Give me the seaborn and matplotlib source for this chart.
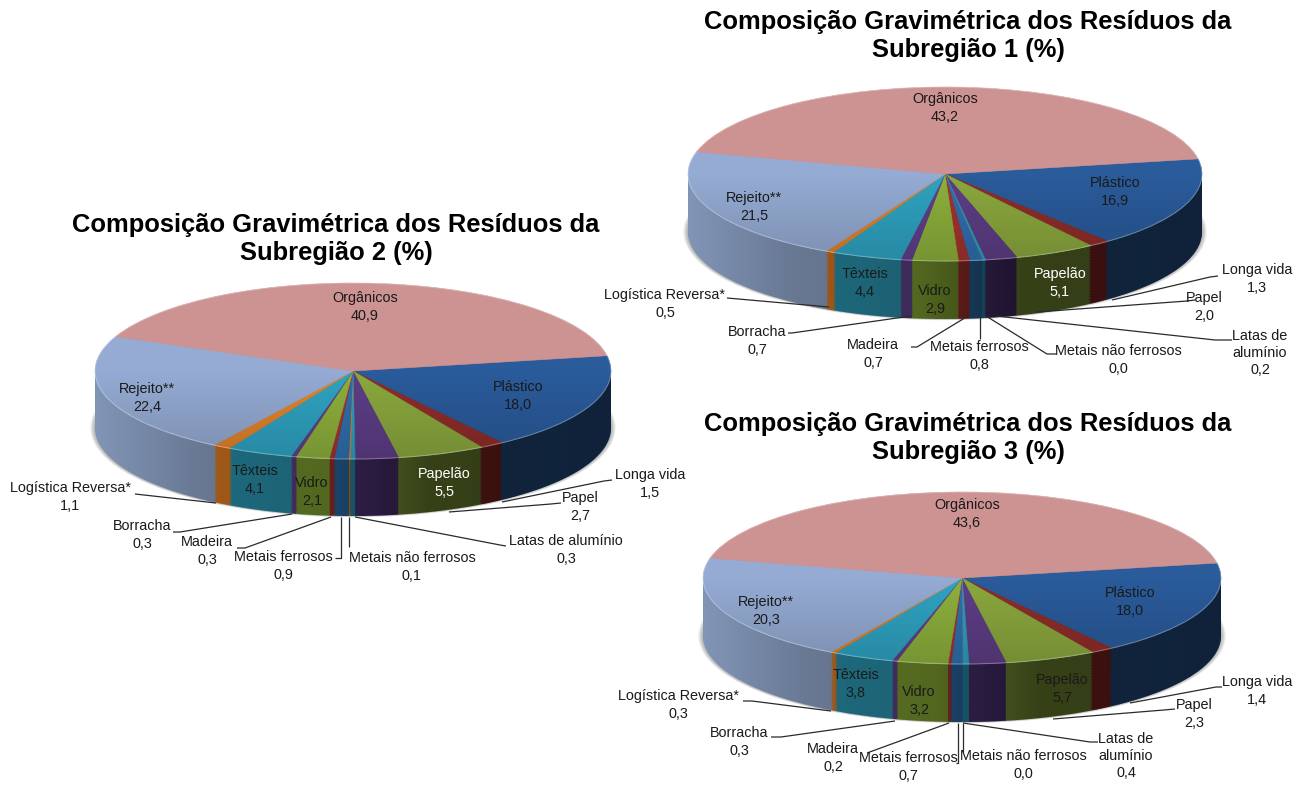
import numpy as np
import seaborn as sns
import matplotlib
matplotlib.use("Agg")
import matplotlib.pyplot as plt
from matplotlib.patches import Ellipse, Polygon

sns.set_theme(style="white")
plt.rcParams["font.family"] = ["Liberation Sans", "DejaVu Sans"]

# Dados

categorias = ["Plástico", "Longa vida", "Papelão", "Papel", "Latas de alumínio", "Metais não ferrosos",
              "Metais ferrosos", "Madeira", "Vidro", "Borracha", "Têxteis", "Logística Reversa*",
              "Rejeito**", "Orgânicos"]
sub1 = [16.9, 1.3, 5.1, 2.0, 0.2, 0.0, 0.8, 0.7, 2.9, 0.7, 4.4, 0.5, 21.5, 43.2]
sub2 = [18.0, 1.5, 5.5, 2.7, 0.3, 0.1, 0.9, 0.3, 2.1, 0.3, 4.1, 1.1, 22.4, 40.9]
sub3 = [18.0, 1.4, 5.7, 2.3, 0.4, 0.0, 0.7, 0.2, 3.2, 0.3, 3.8, 0.3, 20.3, 43.6]
titulos = ["Composição Gravimétrica dos Resíduos da\nSubregião 1 (%)",
           "Composição Gravimétrica dos Resíduos da\nSubregião 2 (%)",
           "Composição Gravimétrica dos Resíduos da\nSubregião 3 (%)"]

# Cores

cores_topo = sns.color_palette(["#2A5B9B", "#8F2D2A", "#8BA83E", "#5E3E86", "#2FA0BE", "#E3832A", "#2F70AE",
                                "#A33330", "#8DB03C", "#603F8B", "#2FA3C2", "#E3832A", "#95ABD3", "#CC9392"])
cores_lado = sns.color_palette(["#2B5F9E", "#9A2D2A", "#8BA83E", "#4F3378", "#2590AC", "#E07B22", "#2A6AA6",
                                "#A5302C", "#7F9E30", "#5E4288", "#2A93AE", "#DC7A20", "#8FA5CA", "#B08080"])

W, H = 1303, 787

# Posicoes em pixels (layout, na ordem de categorias)

graficos = [
    dict(valores=sub1, titulo=titulos[0], titulo_xy=(968, 36), cx=945, cy=174, a=257, b=87, prof=58,
         textos=[(1115, 192), (1257, 279), (1060, 283), (1204, 307), (1260, 353), (1118, 360), (979, 356),
                 (873, 354), (935, 300), (757, 341), (865, 283), (665, 304), (754, 207), (945, 108)],
         linhas=[[(1218, 276), (1210, 277), (1112, 300)], [(1195, 300), (1187, 301), (1037, 312)],
                 [(1232, 340), (1215, 340), (996, 316)], [(1056, 354), (1047, 354), (986, 316)],
                 [(980, 339), (980, 316)], [(911, 347), (917, 347), (968, 316)],
                 [(788, 333), (792, 333), (911, 316)], [(727, 298), (829, 307)]],
         branco=True, rotulo_latas="Latas de\nalumínio"),
    dict(valores=sub2, titulo=titulos[1], titulo_xy=(336, 239), cx=353, cy=371, a=258, b=88, prof=57,
         textos=[(518, 396), (650, 484), (444, 483), (580, 507), (566, 550), (412, 567), (283, 566),
                 (207, 551), (312, 492), (142, 535), (255, 480), (70, 497), (147, 398), (365, 307)],
         linhas=[[(612, 480), (604, 481), (502, 502)], [(561, 503), (551, 504), (449, 512)],
                 [(506, 546), (500, 545), (355, 517)], [(349, 547), (349, 517)],
                 [(335, 558), (341, 558), (341, 517)], [(237, 548), (245, 548), (331, 517)],
                 [(173, 532), (180, 532), (292, 514)], [(135, 494), (216, 503)]],
         branco=True, rotulo_latas="Latas de alumínio"),
    dict(valores=sub3, titulo=titulos[2], titulo_xy=(968, 438), cx=962, cy=578, a=259, b=86, prof=58,
         textos=[(1130, 602), (1257, 691), (1062, 689), (1194, 714), (1126, 756), (1023, 765), (908, 767),
                 (833, 758), (919, 701), (739, 742), (856, 684), (678, 705), (766, 611), (967, 514)],
         linhas=[[(1222, 687), (1216, 687), (1130, 703)], [(1175, 709), (1164, 710), (1053, 719)],
                 [(1098, 742), (1090, 742), (963, 723)], [(963, 752), (963, 723)],
                 [(956, 763), (958, 763), (958, 723)], [(867, 753), (949, 723)],
                 [(771, 737), (781, 737), (895, 721)], [(743, 701), (752, 701), (831, 711)]],
         branco=False, rotulo_latas="Latas de\nalumínio"),
]

fig = plt.figure(figsize=(W / 100, H / 100), dpi=100, facecolor="white")

# Eixo de sobreposicao em pixels para textos e linhas de chamada

over = fig.add_axes([0, 0, 1, 1], zorder=10)
over.set_xlim(0, W)
over.set_ylim(H, 0)
over.axis("off")

for g in graficos:
    a, b, prof = g["a"], g["b"], g["prof"]
    d = prof / b
    mx, my = 1.12, 1.35
    larg, alt = 2 * mx * a, (2 * my + d) * b
    ax = fig.add_axes([(g["cx"] - mx * a) / W, 1 - (g["cy"] + (my + d) * b) / H, larg / W, alt / H])

    # Sombra

    for esc in np.linspace(1.018, 1.002, 6):
        ax.add_patch(Ellipse((0, -d), 2 * esc, 2 * (1 + (esc - 1) * 0.8), color="#555555", alpha=0.09, lw=0,
                             zorder=0))

    # Lateral: varias pizzas empilhadas de baixo para cima

    n_camadas = int(prof / 1.5)
    for k in np.linspace(d, 0, n_camadas):
        ax.pie(g["valores"], colors=cores_lado, startangle=10, counterclock=False, center=(0, -k),
               wedgeprops={"linewidth": 0, "zorder": 1})

    t = np.linspace(np.pi, 2 * np.pi, 200)
    contorno = np.column_stack([np.r_[-1, np.cos(t), 1], np.r_[0, np.sin(t) - d, 0]])
    clip_lado = Polygon(contorno, transform=ax.transData, fill=False, lw=0)
    ax.add_patch(clip_lado)
    grad = np.zeros((2, 300, 4))
    grad[..., 3] = np.interp(np.linspace(0, 1, 300), [0, 0.2, 0.45, 0.65, 1], [0.1, 0.27, 0.35, 0.62, 0.64])
    img = ax.imshow(grad, extent=(-1, 1, -1 - d, 0.2), aspect="auto", zorder=2, interpolation="bilinear")
    img.set_clip_path(clip_lado)

    # Topo

    fatias, _ = ax.pie(g["valores"], colors=cores_topo, startangle=10, counterclock=False,
                       wedgeprops={"linewidth": 0.4, "zorder": 3})
    for f in fatias:
        f.set_edgecolor(f.get_facecolor())
    clip_topo = Ellipse((0, 0), 2, 2, transform=ax.transData, fill=False, lw=0)
    ax.add_patch(clip_topo)
    grad = np.zeros((200, 2, 4))
    grad[..., 3] = np.interp(np.linspace(0, 1, 200), [0, 0.5, 1], [0.0, 0.0, 0.16])[:, None]
    img = ax.imshow(grad, extent=(-1, 1, -1, 1), aspect="auto", zorder=4, interpolation="bilinear")
    img.set_clip_path(clip_topo)

    # Brilho na borda do topo
    ax.add_patch(Ellipse((0, 0), 2, 2, fill=False, edgecolor="white", alpha=0.3, lw=0.8, zorder=5))

    ax.set_aspect("auto")
    ax.set_xlim(-mx, mx)
    ax.set_ylim(-my - d, my)
    ax.set_axis_off()

    # Textos

    over.text(*g["titulo_xy"], g["titulo"], ha="center", va="center", fontsize=18.35, fontweight="bold",
              color="black", linespacing=1.25)
    for i, (nome, v) in enumerate(zip(categorias, g["valores"])):
        if i == 4:
            nome = g["rotulo_latas"]
        cor = "white" if (i == 2 and g["branco"]) else "#1a1a1a"
        over.text(*g["textos"][i], nome + "\n" + f"{v:.1f}".replace(".", ","), ha="center", va="center",
                  fontsize=10.4, color=cor, linespacing=1.3)
    for linha in g["linhas"]:
        xs, ys = zip(*linha)
        over.plot(xs, ys, color="#2a2a2a", lw=0.9, solid_capstyle="butt")

fig.savefig("out.png", dpi=100)
